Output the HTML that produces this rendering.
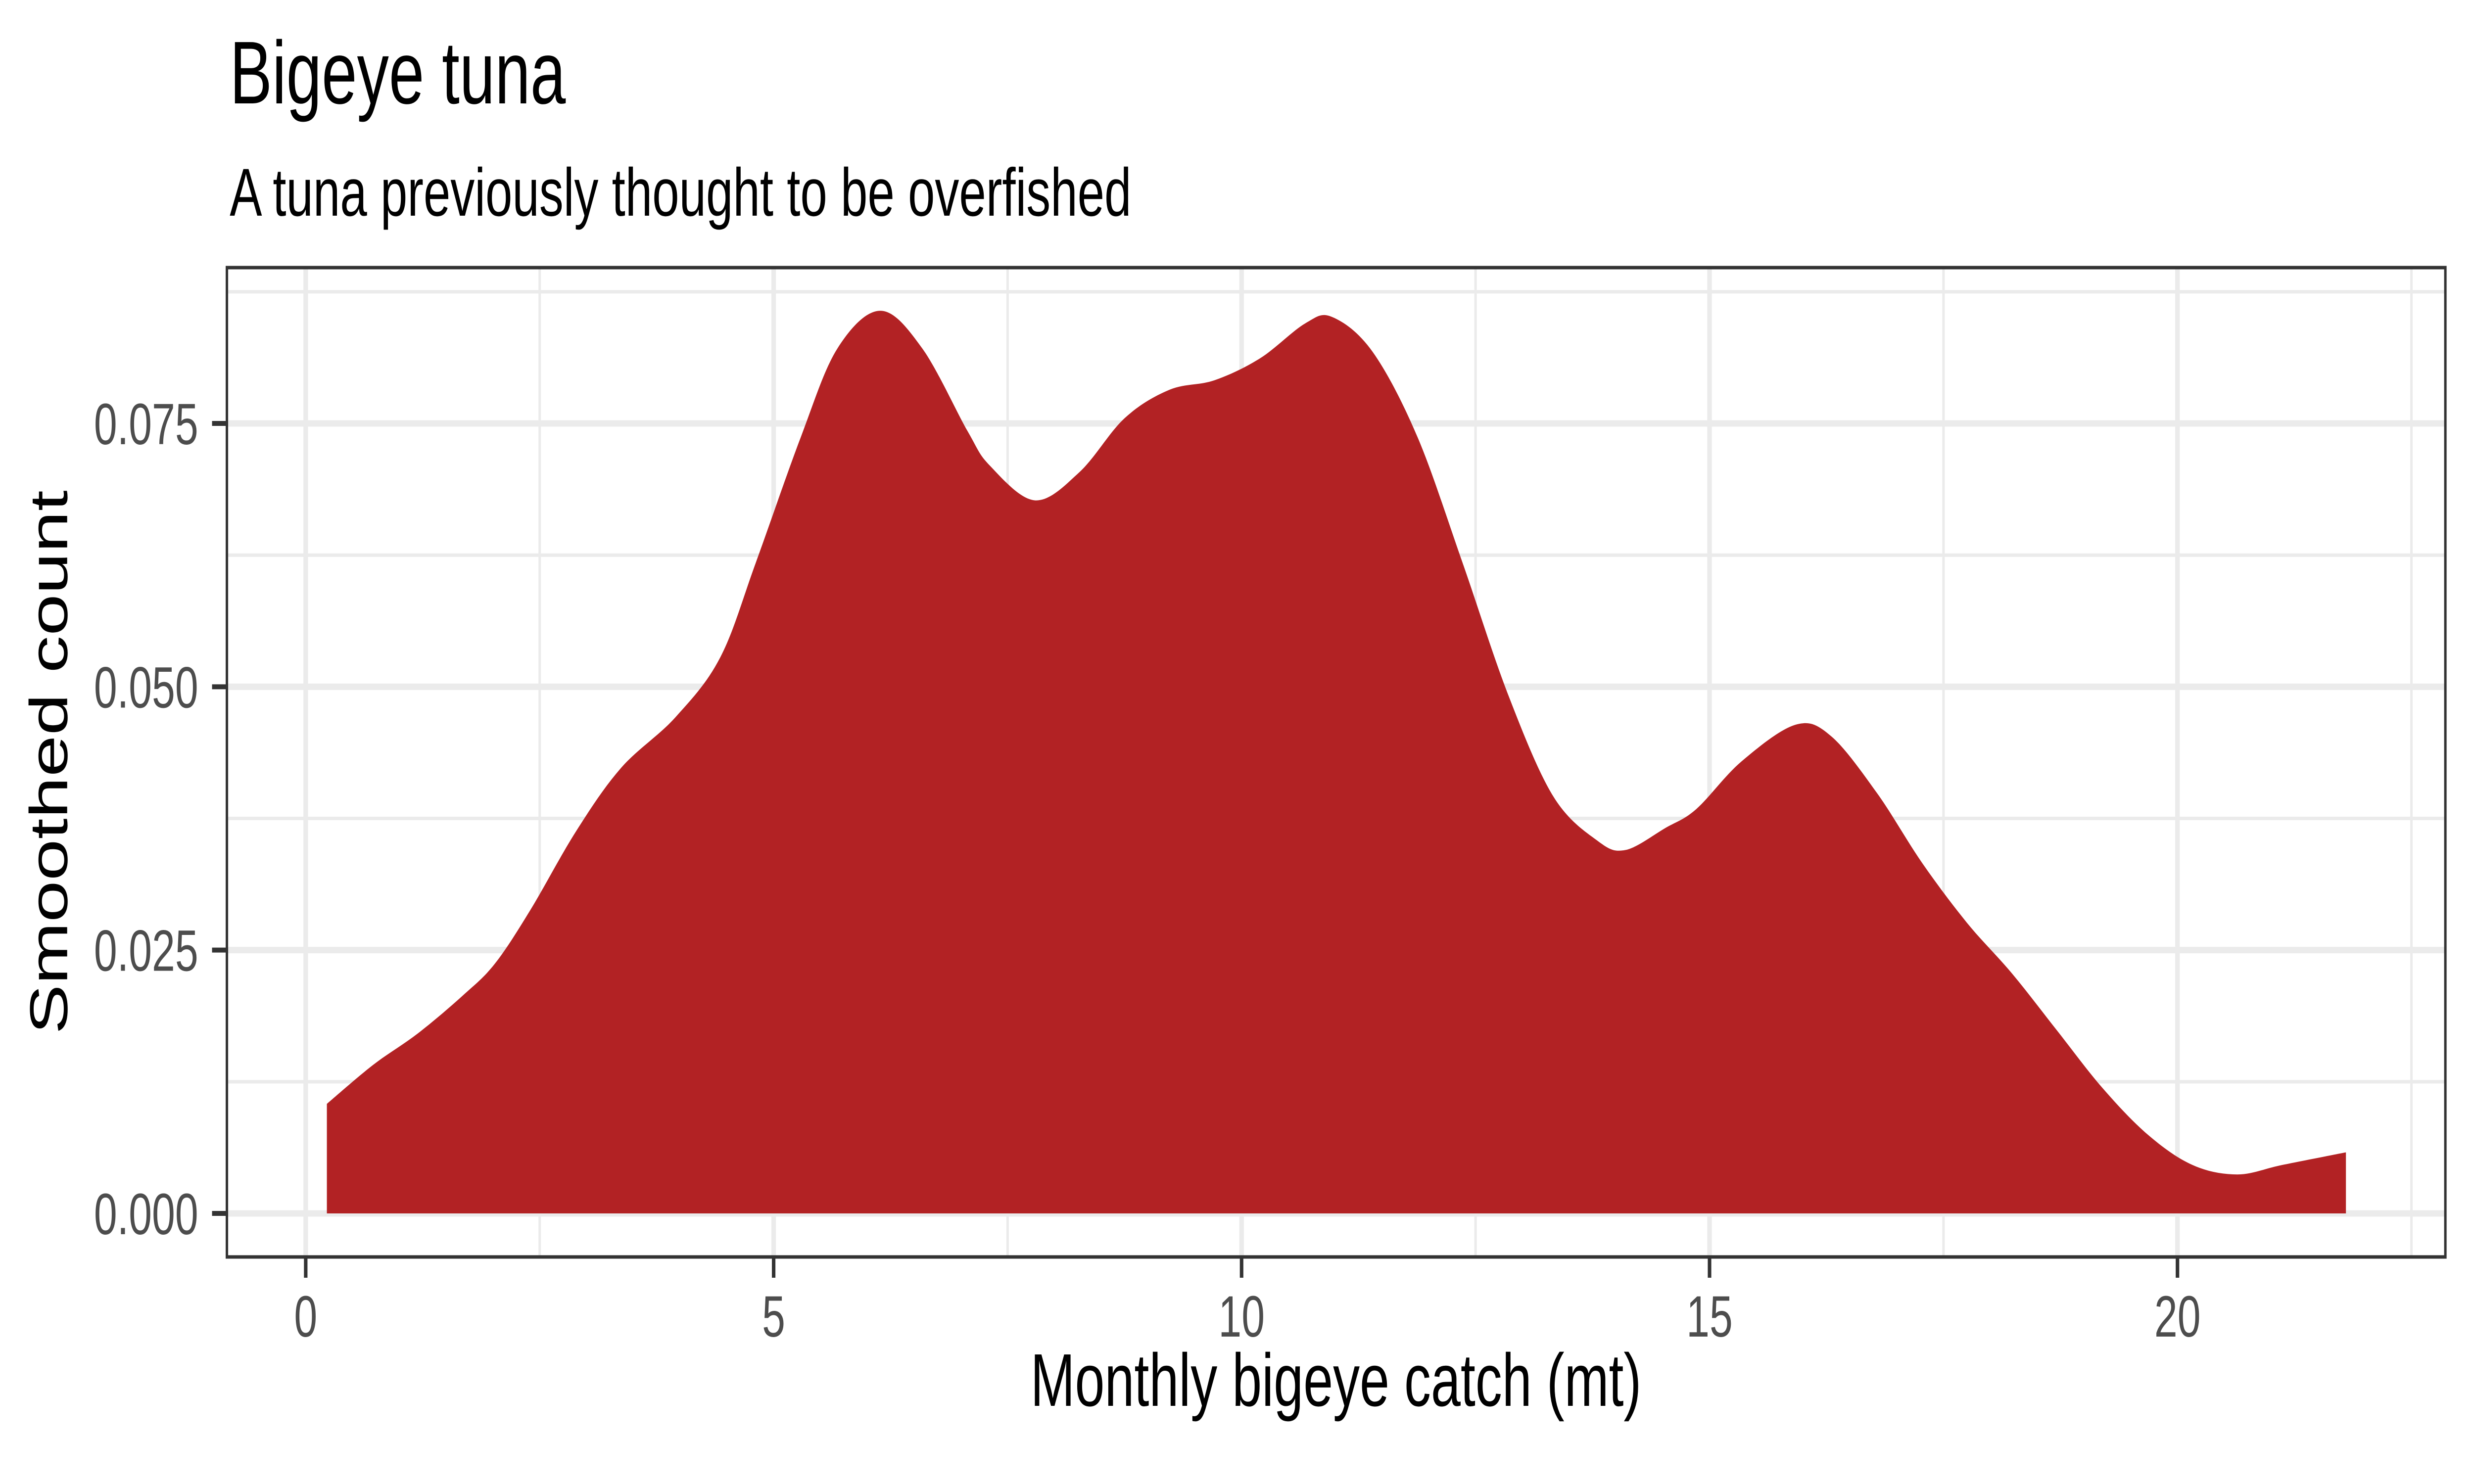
<!DOCTYPE html>
<html><head><meta charset="utf-8">
<style>
html,body{margin:0;padding:0;background:#fff;width:100%;height:100%;overflow:hidden;}
svg{display:block;width:100vw;height:100vh;font-family:"Liberation Sans",Arial,sans-serif;}
</style></head>
<body>
<svg id="chart" viewBox="0 0 7000 3000" preserveAspectRatio="none" xmlns="http://www.w3.org/2000/svg">
<rect x="0" y="0" width="7000" height="3000" fill="#fff"/>
<text x="650" y="209" font-size="180" fill="#000">Bigeye tuna</text>
<text x="650" y="436" font-size="137" fill="#000">A tuna previously thought to be overfished</text>
<g id="grid"></g>
<g id="marks"></g>
<rect x="642" y="541" width="6277" height="2000" fill="none" stroke="#333" stroke-width="7"/>
<g id="axes"></g>
<text x="3780" y="2842" font-size="151" text-anchor="middle" fill="#000">Monthly bigeye catch (mt)</text>
<text transform="translate(190,1541) rotate(-90)" font-size="151" text-anchor="middle" fill="#000">Smoothed count</text>
</svg>
<script>
const xValues = [0.226,0.72,1.2,1.68,2.02,2.4,2.89,3.37,3.95,4.43,4.81,5.29,5.68,6.14,6.59,7.07,7.31,7.79,8.27,8.75,9.23,9.71,10.2,10.68,10.97,11.4,11.88,12.36,12.85,13.33,13.8,14.1,14.53,14.86,15.34,15.92,16.3,16.79,17.27,17.75,18.23,18.71,19.19,19.68,20.16,20.64,21.12,21.8];
const densityValues = [0.0104,0.0141,0.0171,0.0207,0.0237,0.0288,0.0363,0.0423,0.0471,0.0528,0.0618,0.0737,0.0821,0.0857,0.0821,0.0743,0.0710,0.0677,0.0704,0.0755,0.0782,0.0791,0.0812,0.0845,0.0851,0.0818,0.0737,0.0618,0.0492,0.0396,0.0354,0.0345,0.0366,0.0384,0.0429,0.0464,0.0453,0.0399,0.0333,0.0276,0.0228,0.0174,0.0120,0.0075,0.0046,0.0037,0.0046,0.0058];
const xTicks = [0,5,10,15,20];
const xTickLabels = ["0","5","10","15","20"];
const xMinor = [2.5,7.5,12.5,17.5,22.5];
const yTicks = [0,0.025,0.05,0.075];
const yTickLabels = ["0.000","0.025","0.050","0.075"];
const yMinor = [0.0125,0.0375,0.0625,0.0875];

const NS="http://www.w3.org/2000/svg";
const PL=642,PR=6919,PT=541,PB=2541;
function sx(v){return 865+v*264.8;}
function sy(v){return 2453-v*21293;}
function mk(tag,attrs,parent){const e=document.createElementNS(NS,tag);for(const k in attrs)e.setAttribute(k,attrs[k]);parent.appendChild(e);return e;}

const grid=document.getElementById('grid');
xMinor.forEach(v=>{const l=mk('line',{x1:sx(v),x2:sx(v),y1:PT,y2:PB,stroke:'#EBEBEB','stroke-width':7},grid);

});
yMinor.forEach(v=>{const l=mk('line',{x1:PL,x2:PR,y1:sy(v),y2:sy(v),stroke:'#EBEBEB','stroke-width':7},grid);

});
xTicks.forEach(v=>{const l=mk('line',{x1:sx(v),x2:sx(v),y1:PT,y2:PB,stroke:'#EBEBEB','stroke-width':13},grid);

});
yTicks.forEach(v=>{const l=mk('line',{x1:PL,x2:PR,y1:sy(v),y2:sy(v),stroke:'#EBEBEB','stroke-width':13},grid);

});

const pts=xValues.map((x,i)=>[sx(x),sy(densityValues[i])]);
let d=`M${pts[0][0]},${sy(0)} L${pts[0][0]},${pts[0][1]}`;
for(let i=0;i<pts.length-1;i++){
  const p0=pts[Math.max(0,i-1)],p1=pts[i],p2=pts[i+1],p3=pts[Math.min(pts.length-1,i+2)];
  const c1=[p1[0]+(p2[0]-p0[0])/6,p1[1]+(p2[1]-p0[1])/6];
  const c2=[p2[0]-(p3[0]-p1[0])/6,p2[1]-(p3[1]-p1[1])/6];
  d+=` C${c1[0]},${c1[1]} ${c2[0]},${c2[1]} ${p2[0]},${p2[1]}`;
}
d+=` L${pts[pts.length-1][0]},${sy(0)} Z`;
const area=mk('path',{d:d,fill:'#B22224'},document.getElementById('marks'));



const axes=document.getElementById('axes');
xTicks.forEach((v,i)=>{
  const t=mk('line',{x1:sx(v),x2:sx(v),y1:PB,y2:PB+42,stroke:'#333','stroke-width':10},axes);
  
  
  const tx=mk('text',{x:sx(v),y:2702,'font-size':118,'text-anchor':'middle',fill:'#4D4D4D'},axes);
  tx.textContent=xTickLabels[i];
  
  
});
yTicks.forEach((v,i)=>{
  const t=mk('line',{x1:PL-42,x2:PL,y1:sy(v),y2:sy(v),stroke:'#333','stroke-width':10},axes);
  
  
  const tx=mk('text',{x:561,y:sy(v)+42,'font-size':118,'text-anchor':'end',fill:'#4D4D4D'},axes);
  tx.textContent=yTickLabels[i];
  
  
});
</script>
</body></html>
